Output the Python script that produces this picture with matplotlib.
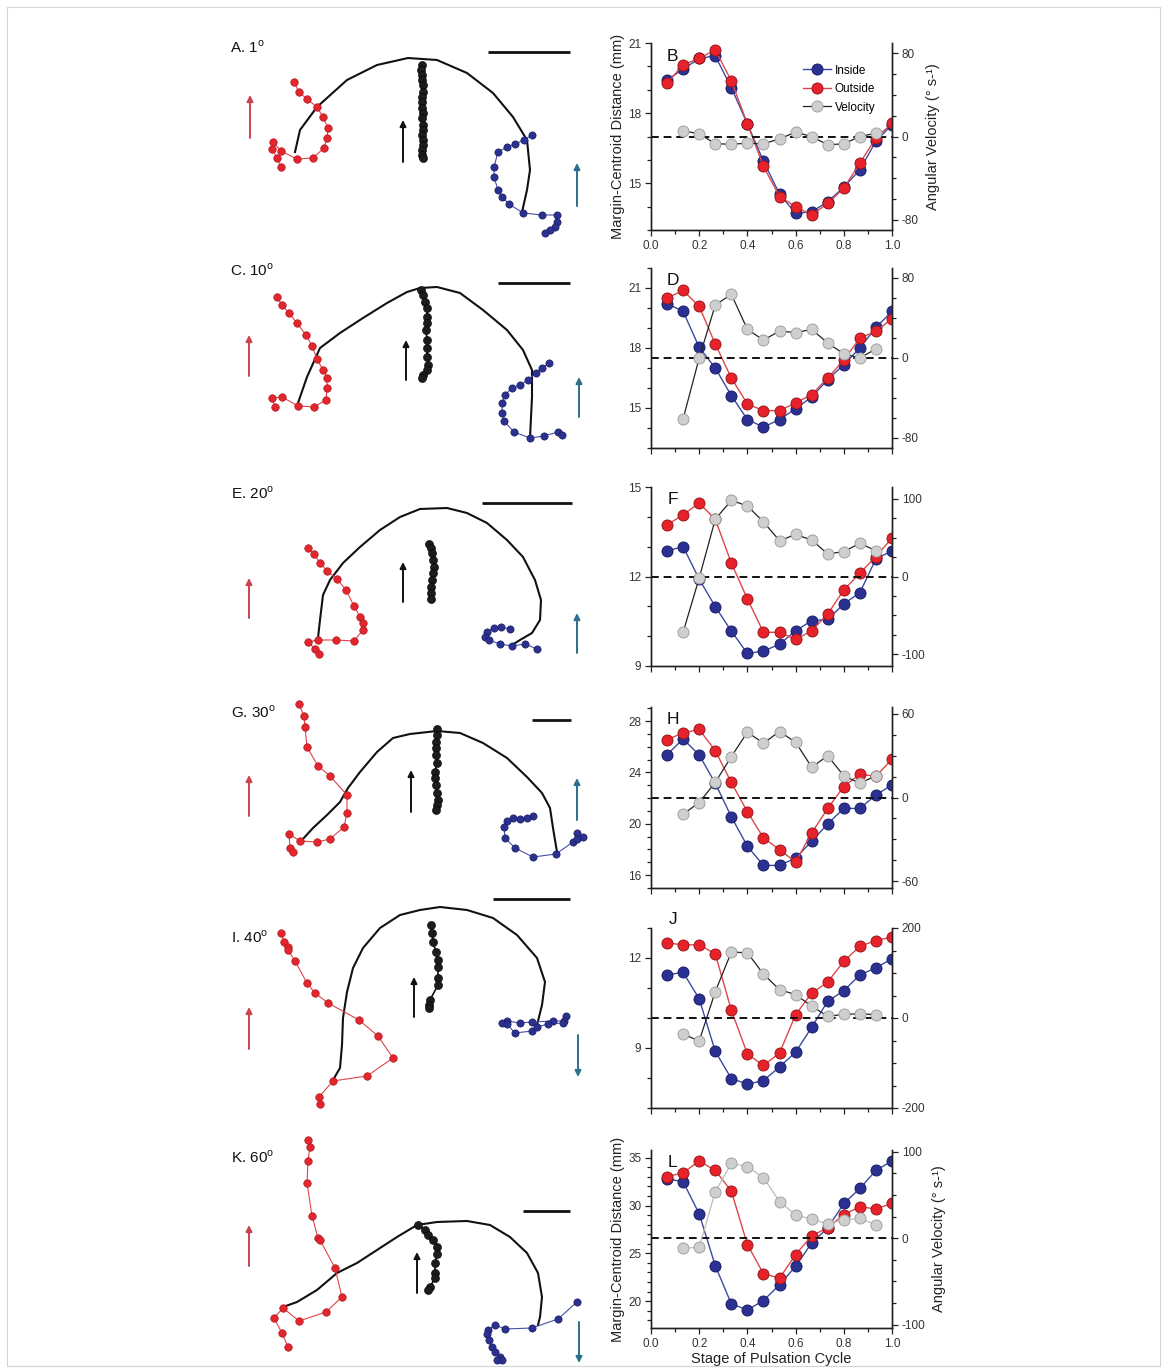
import numpy as np
import matplotlib
matplotlib.use("Agg")
import matplotlib.pyplot as plt
from matplotlib.ticker import MultipleLocator, NullFormatter
from matplotlib.lines import Line2D
from matplotlib.patches import Rectangle

plt.rcParams["font.family"] = ["Liberation Sans", "DejaVu Sans"]
plt.rcParams["axes.unicode_minus"] = False
plt.rcParams["mathtext.fontset"] = "custom"
plt.rcParams["mathtext.rm"] = "Liberation Sans"

W, H = 1167, 1369

# ---------------- data: margin-centroid distance / angular velocity ----------------
stage = np.arange(1, 16) / 15.0          # 15 frames over one pulsation
stage_vel = stage[1:14]                   # velocity defined on inner frames

b_inside = [19.42, 19.88, 20.34, 20.45, 19.09, 17.54, 15.94, 14.54, 13.71, 13.78, 14.21, 14.83, 15.58, 16.80, 17.51]
b_outside = [19.28, 20.07, 20.34, 20.71, 19.38, 17.54, 15.72, 14.43, 14.00, 13.64, 14.14, 14.79, 15.86, 16.94, 17.56]
b_vel = [5.5, 2.6, -7.0, -7.4, -6.5, -7.0, -2.3, 4.2, 0.0, -8.0, -7.0, 0.0, 3.2]

d_inside = [20.22, 19.83, 18.03, 17.00, 15.62, 14.42, 14.05, 14.42, 14.97, 15.55, 16.42, 17.17, 18.00, 19.03, 19.83]
d_outside = [20.50, 20.88, 20.08, 18.20, 16.50, 15.20, 14.87, 14.87, 15.25, 15.67, 16.50, 17.40, 18.50, 18.83, 19.47]
d_vel = [-60.8, 0.0, 53.0, 63.7, 28.6, 17.9, 27.0, 25.4, 28.6, 15.0, 4.2, 0.0, 9.1]

f_inside = [12.86, 13.00, 11.91, 10.99, 10.17, 9.42, 9.50, 9.73, 10.18, 10.52, 10.56, 11.08, 11.46, 12.59, 12.86]
f_outside = [13.73, 14.07, 14.46, 13.92, 12.45, 11.25, 10.13, 10.13, 9.89, 10.18, 10.74, 11.55, 12.11, 12.67, 13.29]
f_vel = [-71.5, -2.0, 73.6, 97.9, 90.6, 70.2, 46.0, 54.0, 46.8, 29.0, 32.0, 42.6, 33.2]

h_inside = [25.39, 26.61, 25.36, 23.16, 20.55, 18.25, 16.76, 16.76, 17.33, 18.64, 20.00, 21.20, 21.20, 22.25, 23.03]
h_outside = [26.56, 27.08, 27.35, 25.70, 23.22, 20.94, 18.90, 17.99, 17.02, 19.29, 21.20, 22.90, 23.87, 23.69, 25.05]
h_vel = [-12.0, -3.6, 10.8, 29.4, 46.9, 39.0, 47.4, 39.7, 21.8, 29.9, 15.6, 10.3, 15.6]

j_inside = [11.44, 11.52, 10.64, 8.89, 7.98, 7.80, 7.91, 8.37, 8.86, 9.69, 10.56, 10.91, 11.44, 11.67, 11.98]
j_outside = [12.50, 12.44, 12.44, 12.14, 10.26, 8.80, 8.42, 8.83, 10.11, 10.83, 11.20, 11.89, 12.39, 12.58, 12.70]
j_vel = [-36.0, -51.0, 58.6, 146.5, 145.0, 97.4, 63.0, 52.0, 26.4, 3.7, 8.0, 9.5, 7.3]

l_inside = [32.80, 32.48, 29.13, 23.71, 19.72, 19.09, 20.07, 21.71, 23.64, 26.08, 27.66, 30.21, 31.78, 33.67, 34.65]
l_outside = [33.00, 33.43, 34.65, 33.67, 31.50, 25.91, 22.87, 22.41, 24.86, 26.85, 27.66, 29.06, 29.86, 29.65, 30.21]
l_vel = [-11.5, -10.8, 53.8, 86.5, 82.7, 70.0, 42.3, 27.0, 22.0, 16.5, 21.0, 23.0, 15.4]

# ---------------- data: tracked margin / bell outline (local units) ----------------
a_red = [(74, 52), (79, 62), (87, 69), (97, 77), (103, 87), (108, 98), (107, 108), (104, 118), (93, 128),
         (77, 129), (61, 121), (53, 112), (52, 119), (57, 128), (61, 137)]
a_blue = [(312, 105), (304, 110), (295, 114), (287, 117), (278, 122), (274, 137), (274, 147), (278, 160),
          (282, 167), (289, 174), (303, 183), (322, 185), (337, 185), (337, 192), (335, 197), (330, 200), (325, 203)]
a_apex = [(202, 35), (201, 40), (202, 45), (202, 50), (203, 55), (203, 62), (202, 67), (202, 72), (202, 78),
          (203, 83), (202, 88), (203, 95), (203, 100), (202, 105), (203, 110), (203, 115), (202, 120), (202, 125), (203, 128)]
a_bell = [(75, 122), (80, 100), (97, 77), (127, 50), (157, 35), (188, 28), (217, 30), (247, 43), (273, 63),
          (293, 87), (307, 110), (310, 140), (307, 160), (302, 182)]

c_red = [(57, 37), (62, 45), (69, 53), (77, 63), (86, 75), (92, 86), (97, 99), (103, 110), (107, 118),
         (107, 128), (106, 140), (94, 147), (78, 146), (62, 137), (52, 138), (55, 147)]
c_blue = [(329, 103), (322, 108), (316, 113), (308, 120), (300, 125), (292, 128), (285, 135), (282, 143),
          (282, 153), (284, 161), (294, 172), (310, 178), (324, 176), (338, 172), (342, 175)]
c_apex = [(201, 30), (203, 35), (205, 42), (207, 48), (207, 57), (207, 63), (206, 70), (207, 80), (207, 88),
          (207, 97), (208, 105), (207, 110), (203, 115), (202, 118)]
c_bell = [(78, 143), (87, 117), (100, 88), (120, 73), (143, 58), (167, 43), (187, 32), (200, 28), (217, 27),
          (240, 33), (263, 50), (287, 70), (303, 90), (312, 110), (312, 137), (310, 178)]

e_red = [(88, 68), (94, 74), (100, 83), (107, 91), (117, 99), (126, 110), (134, 126), (140, 137), (143, 143),
         (143, 150), (134, 161), (116, 160), (98, 160), (88, 162), (95, 169), (99, 174)]
e_blue = [(290, 149), (281, 147), (274, 148), (267, 152), (265, 157), (269, 160), (280, 164), (292, 166),
          (305, 164), (317, 169)]
e_apex = [(209, 64), (211, 68), (212, 73), (213, 80), (214, 87), (213, 93), (212, 100), (211, 107), (211, 113), (211, 119)]
e_bell = [(98, 158), (100, 140), (103, 115), (110, 100), (123, 83), (140, 67), (160, 50), (180, 37), (200, 29),
          (227, 28), (247, 33), (267, 43), (287, 60), (303, 77), (315, 100), (321, 120), (320, 140), (312, 153),
          (300, 160), (292, 165)]

g_red = [(79, 9), (84, 21), (85, 32), (87, 52), (98, 71), (110, 81), (127, 100), (127, 118), (124, 132),
         (110, 144), (97, 147), (80, 146), (69, 139), (70, 153), (73, 157)]
g_blue = [(313, 121), (307, 123), (300, 124), (293, 123), (287, 126), (284, 132), (285, 143), (295, 153),
          (313, 162), (336, 159), (353, 147), (357, 138), (363, 142), (357, 144)]
g_apex = [(217, 34), (217, 40), (216, 47), (216, 53), (216, 60), (217, 68), (215, 77), (215, 83), (216, 90),
          (217, 98), (218, 105), (217, 110), (216, 115)]
g_bell = [(82, 145), (93, 133), (107, 120), (120, 107), (128, 93), (140, 77), (157, 57), (173, 43), (190, 39),
          (217, 36), (240, 38), (263, 48), (287, 63), (307, 82), (322, 98), (330, 113), (333, 133), (337, 157)]

i_red = [(61, 38), (64, 47), (68, 52), (68, 55), (75, 66), (87, 88), (95, 98), (108, 108), (139, 125),
         (158, 141), (173, 163), (147, 181), (113, 186), (99, 202), (100, 209)]
i_blue = [(346, 121), (344, 126), (333, 126), (312, 127), (300, 128), (287, 126), (282, 128), (287, 129),
          (295, 138), (312, 136), (317, 132), (328, 129), (343, 128)]
i_apex = [(211, 30), (212, 38), (213, 47), (216, 57), (218, 65), (218, 72), (218, 83), (218, 90), (210, 105),
          (209, 110), (209, 113)]
i_bell = [(113, 185), (120, 173), (122, 150), (123, 123), (127, 97), (133, 73), (143, 53), (160, 33), (180, 20),
          (200, 15), (220, 12), (247, 15), (273, 23), (297, 40), (317, 63), (325, 87), (322, 110), (317, 130)]

k_red = [(88, 0), (90, 7), (88, 21), (87, 43), (92, 76), (98, 98), (100, 100), (115, 128), (122, 157),
         (106, 172), (79, 181), (63, 168), (54, 178), (62, 193), (68, 207)]
k_blue = [(357, 162), (338, 179), (312, 188), (285, 189), (275, 185), (268, 190), (267, 194), (269, 200),
          (272, 207), (275, 212), (280, 217), (282, 220), (277, 220)]
k_apex = [(198, 85), (205, 90), (208, 95), (213, 100), (217, 107), (217, 114), (215, 123), (215, 133),
          (215, 138), (210, 147), (208, 150)]
k_bell = [(63, 167), (77, 162), (97, 150), (117, 133), (137, 123), (157, 110), (177, 97), (197, 85), (217, 82),
          (247, 81), (270, 85), (290, 97), (307, 113), (318, 133), (322, 157), (320, 177), (318, 185)]

# ---------------- colours ----------------
IN_FACE, IN_EDGE, IN_LINE = "#2a3192", "#161a5e", "#3b4aa0"
OUT_FACE, OUT_EDGE, OUT_LINE = "#e8222a", "#8e1418", "#e0454b"
VEL_FACE, VEL_EDGE = "#cfcfcf", "#9a9a9a"
RED_ARROW, TEAL_ARROW = "#c9434c", "#2e6f8c"
TICK_COL = "#333333"


def fig_box(x0, y0, w, h):
    return [x0 / W, 1 - (y0 + h) / H, w / W, h / H]


fig = plt.figure(figsize=(W / 100, H / 100), dpi=100)
fig.add_artist(Rectangle((7 / W, 1 - 1366 / H), (1160 - 7) / W, (1366 - 7) / H,
                         transform=fig.transFigure, fill=False, ec="#d4d4d4", lw=0.8))

# ---------------- left column: trajectories ----------------
# (title, origin_y, red, blue, apex, bell, red arrow, black arrow, teal arrow, scale bar, title pos)
left_panels = [
    ("A. 1$^{\\rm o}$", 30, a_red, a_blue, a_apex, a_bell,
     (30, 108, 65), (183, 132, 90), (357, 176, 133), (268, 350, 22), (10, 17)),
    ("C. 10$^{\\rm o}$", 260, c_red, c_blue, c_apex, c_bell,
     (29, 116, 75), (186, 120, 80), (359, 157, 117), (278, 350, 23), (10, 10)),
    ("E. 20$^{\\rm o}$", 480, e_red, e_blue, e_apex, e_bell,
     (29, 138, 98), (183, 122, 82), (357, 173, 133), (262, 352, 23), (11, 13)),
    ("G. 30$^{\\rm o}$", 695, g_red, g_blue, g_apex, g_bell,
     (29, 121, 80), (191, 117, 75), (357, 125, 83), (312, 351, 25), (11, 17)),
    ("I. 40$^{\\rm o}$", 895, i_red, i_blue, i_apex, i_bell,
     (29, 154, 112), (194, 122, 82), (358, 140, 182), (273, 350, 4), (11, 42)),
    ("K. 60$^{\\rm o}$", 1140, k_red, k_blue, k_apex, k_bell,
     (29, 126, 85), (197, 153, 112), (359, 182, 223), (303, 350, 71), (11, 17)),
]

for (title, oy, red, blue, apex, bell, ar, ab, at, sb, tpos) in left_panels:
    ax = fig.add_axes(fig_box(220, oy, 380, 229))
    ax.set_xlim(0, 380)
    ax.set_ylim(229, 0)
    ax.axis("off")
    bx, by = np.array(bell).T
    ax.plot(bx, by, color="#111111", lw=1.5, zorder=2, clip_on=False)
    rx, ry = np.array(red).T
    ax.plot(rx, ry, color=OUT_LINE, lw=0.8, marker="o", ms=5.4, mfc="#e3252d", mec="#b01a20",
            mew=0.5, zorder=3, clip_on=False)
    ux, uy = np.array(blue).T
    ax.plot(ux, uy, color="#4a4fa8", lw=0.8, marker="o", ms=5.2, mfc="#2b3190", mec="#1a1d60",
            mew=0.5, zorder=3, clip_on=False)
    cx, cy = np.array(apex).T
    ax.plot(cx, cy, color="#111111", lw=1.2, marker="o", ms=5.8, mfc="#1c1c1c", mec="#000000",
            mew=0.4, zorder=4, clip_on=False)
    for (x, ytail, yhead), col in [(ar, RED_ARROW), (ab, "#111111"), (at, TEAL_ARROW)]:
        ax.annotate("", xy=(x, yhead), xytext=(x, ytail), annotation_clip=False,
                    arrowprops=dict(arrowstyle="-|>", color=col, lw=1.4, mutation_scale=9,
                                    shrinkA=0, shrinkB=0))
    ax.plot([sb[0], sb[1]], [sb[2], sb[2]], color="#111111", lw=2.0, solid_capstyle="butt", clip_on=False)
    ax.text(tpos[0], tpos[1], title, fontsize=11, ha="left", va="center", color="#111111")

# ---------------- right column: distance + angular velocity ----------------
right_panels = [
    ("B", b_inside, b_outside, b_vel, (13, 21), 3, (-90, 90), 80, 20, 43, 230),
    ("D", d_inside, d_outside, d_vel, (13, 22), 3, (-90, 90), 80, 20, 268, 448),
    ("F", f_inside, f_outside, f_vel, (9, 15), 3, (-115, 115), 100, 25, 487, 666),
    ("H", h_inside, h_outside, h_vel, (15, 29.1), 4, (-65, 65), 60, 15, 707, 888),
    ("J", j_inside, j_outside, j_vel, (7, 13), 3, (-200, 200), 200, 50, 928, 1108),
    ("L", l_inside, l_outside, l_vel, (17.2, 35.8), 5, (-104, 102), 100, 25, 1150, 1328),
]

for (letter, ins, outs, vel, ylim, ymaj, vlim, vmaj, vmin, top, bot) in right_panels:
    ax = fig.add_axes(fig_box(651, top, 241, bot - top))
    ax2 = ax.twinx()
    ax.plot(stage, ins, color=IN_LINE, lw=1.0, marker="o", ms=8, mfc=IN_FACE, mec=IN_EDGE, mew=0.6, zorder=3)
    ax.plot(stage, outs, color=OUT_LINE, lw=1.0, marker="o", ms=8, mfc=OUT_FACE, mec=OUT_EDGE, mew=0.6, zorder=4)
    vel_line = "#bdbdbd" if letter == "L" else "#222222"
    ax2.axhline(0, color="#111111", lw=1.4, ls=(0, (4, 2.5)), zorder=1)
    ax2.plot(stage_vel, vel, color=vel_line, lw=0.9, marker="o", ms=8, mfc=VEL_FACE, mec=VEL_EDGE,
             mew=0.6, zorder=2)

    ax.set_xlim(0, 1.0)
    ax.set_ylim(*ylim)
    ax2.set_ylim(*vlim)
    ax.xaxis.set_major_locator(MultipleLocator(0.2))
    ax.xaxis.set_minor_locator(MultipleLocator(0.1))
    ax.yaxis.set_major_locator(MultipleLocator(ymaj))
    ax.yaxis.set_minor_locator(MultipleLocator(1))
    ax2.yaxis.set_major_locator(MultipleLocator(vmaj))
    ax2.yaxis.set_minor_locator(MultipleLocator(vmin))
    ax.xaxis.set_major_formatter(plt.FuncFormatter(lambda v, p: f"{v:.1f}"))
    ax.yaxis.set_major_formatter(plt.FuncFormatter(lambda v, p: f"{v:g}"))
    ax2.yaxis.set_major_formatter(plt.FuncFormatter(lambda v, p: f"{v:g}"))
    if letter not in ("B", "L"):
        ax.xaxis.set_major_formatter(NullFormatter())

    for a in (ax, ax2):
        a.spines["top"].set_visible(False)
        for s in a.spines.values():
            s.set_linewidth(1.0)
            s.set_color("#222222")
        a.tick_params(which="both", direction="out", labelsize=8.5, colors="#222222",
                      labelcolor=TICK_COL, width=0.9, pad=3)
        a.tick_params(which="major", length=4)
        a.tick_params(which="minor", length=3)
        a.patch.set_visible(False)

    letter_y = 1.05 if letter == "J" else 0.93
    ax2.text(0.09, letter_y, letter, transform=ax.transAxes, fontsize=12.5, ha="center", va="center",
             color="#111111", zorder=10)

    if letter in ("B", "L"):
        ax.set_ylabel("Margin-Centroid Distance (mm)", fontsize=10.5, labelpad=2, color="#222222")
        ax2.set_ylabel("Angular Velocity (° s-¹)", fontsize=10.5, labelpad=5, color="#222222")
    if letter == "L":
        ax.set_xlabel("Stage of Pulsation Cycle", fontsize=10.5, labelpad=2, color="#222222")
    if letter == "B":
        handles = [
            Line2D([], [], color=IN_LINE, lw=1.0, marker="o", ms=8, mfc=IN_FACE, mec=IN_EDGE, mew=0.6),
            Line2D([], [], color=OUT_LINE, lw=1.0, marker="o", ms=8, mfc=OUT_FACE, mec=OUT_EDGE, mew=0.6),
            Line2D([], [], color="#222222", lw=0.9, marker="o", ms=8, mfc=VEL_FACE, mec=VEL_EDGE, mew=0.6),
        ]
        ax2.legend(handles, ["Inside", "Outside", "Velocity"], loc="upper left",
                   bbox_to_anchor=(0.61, 0.91), frameon=False, fontsize=8.5, handlelength=2.4,
                   handletextpad=0.3, labelspacing=0.55, borderaxespad=0)

fig.savefig("out.png", dpi=100)
